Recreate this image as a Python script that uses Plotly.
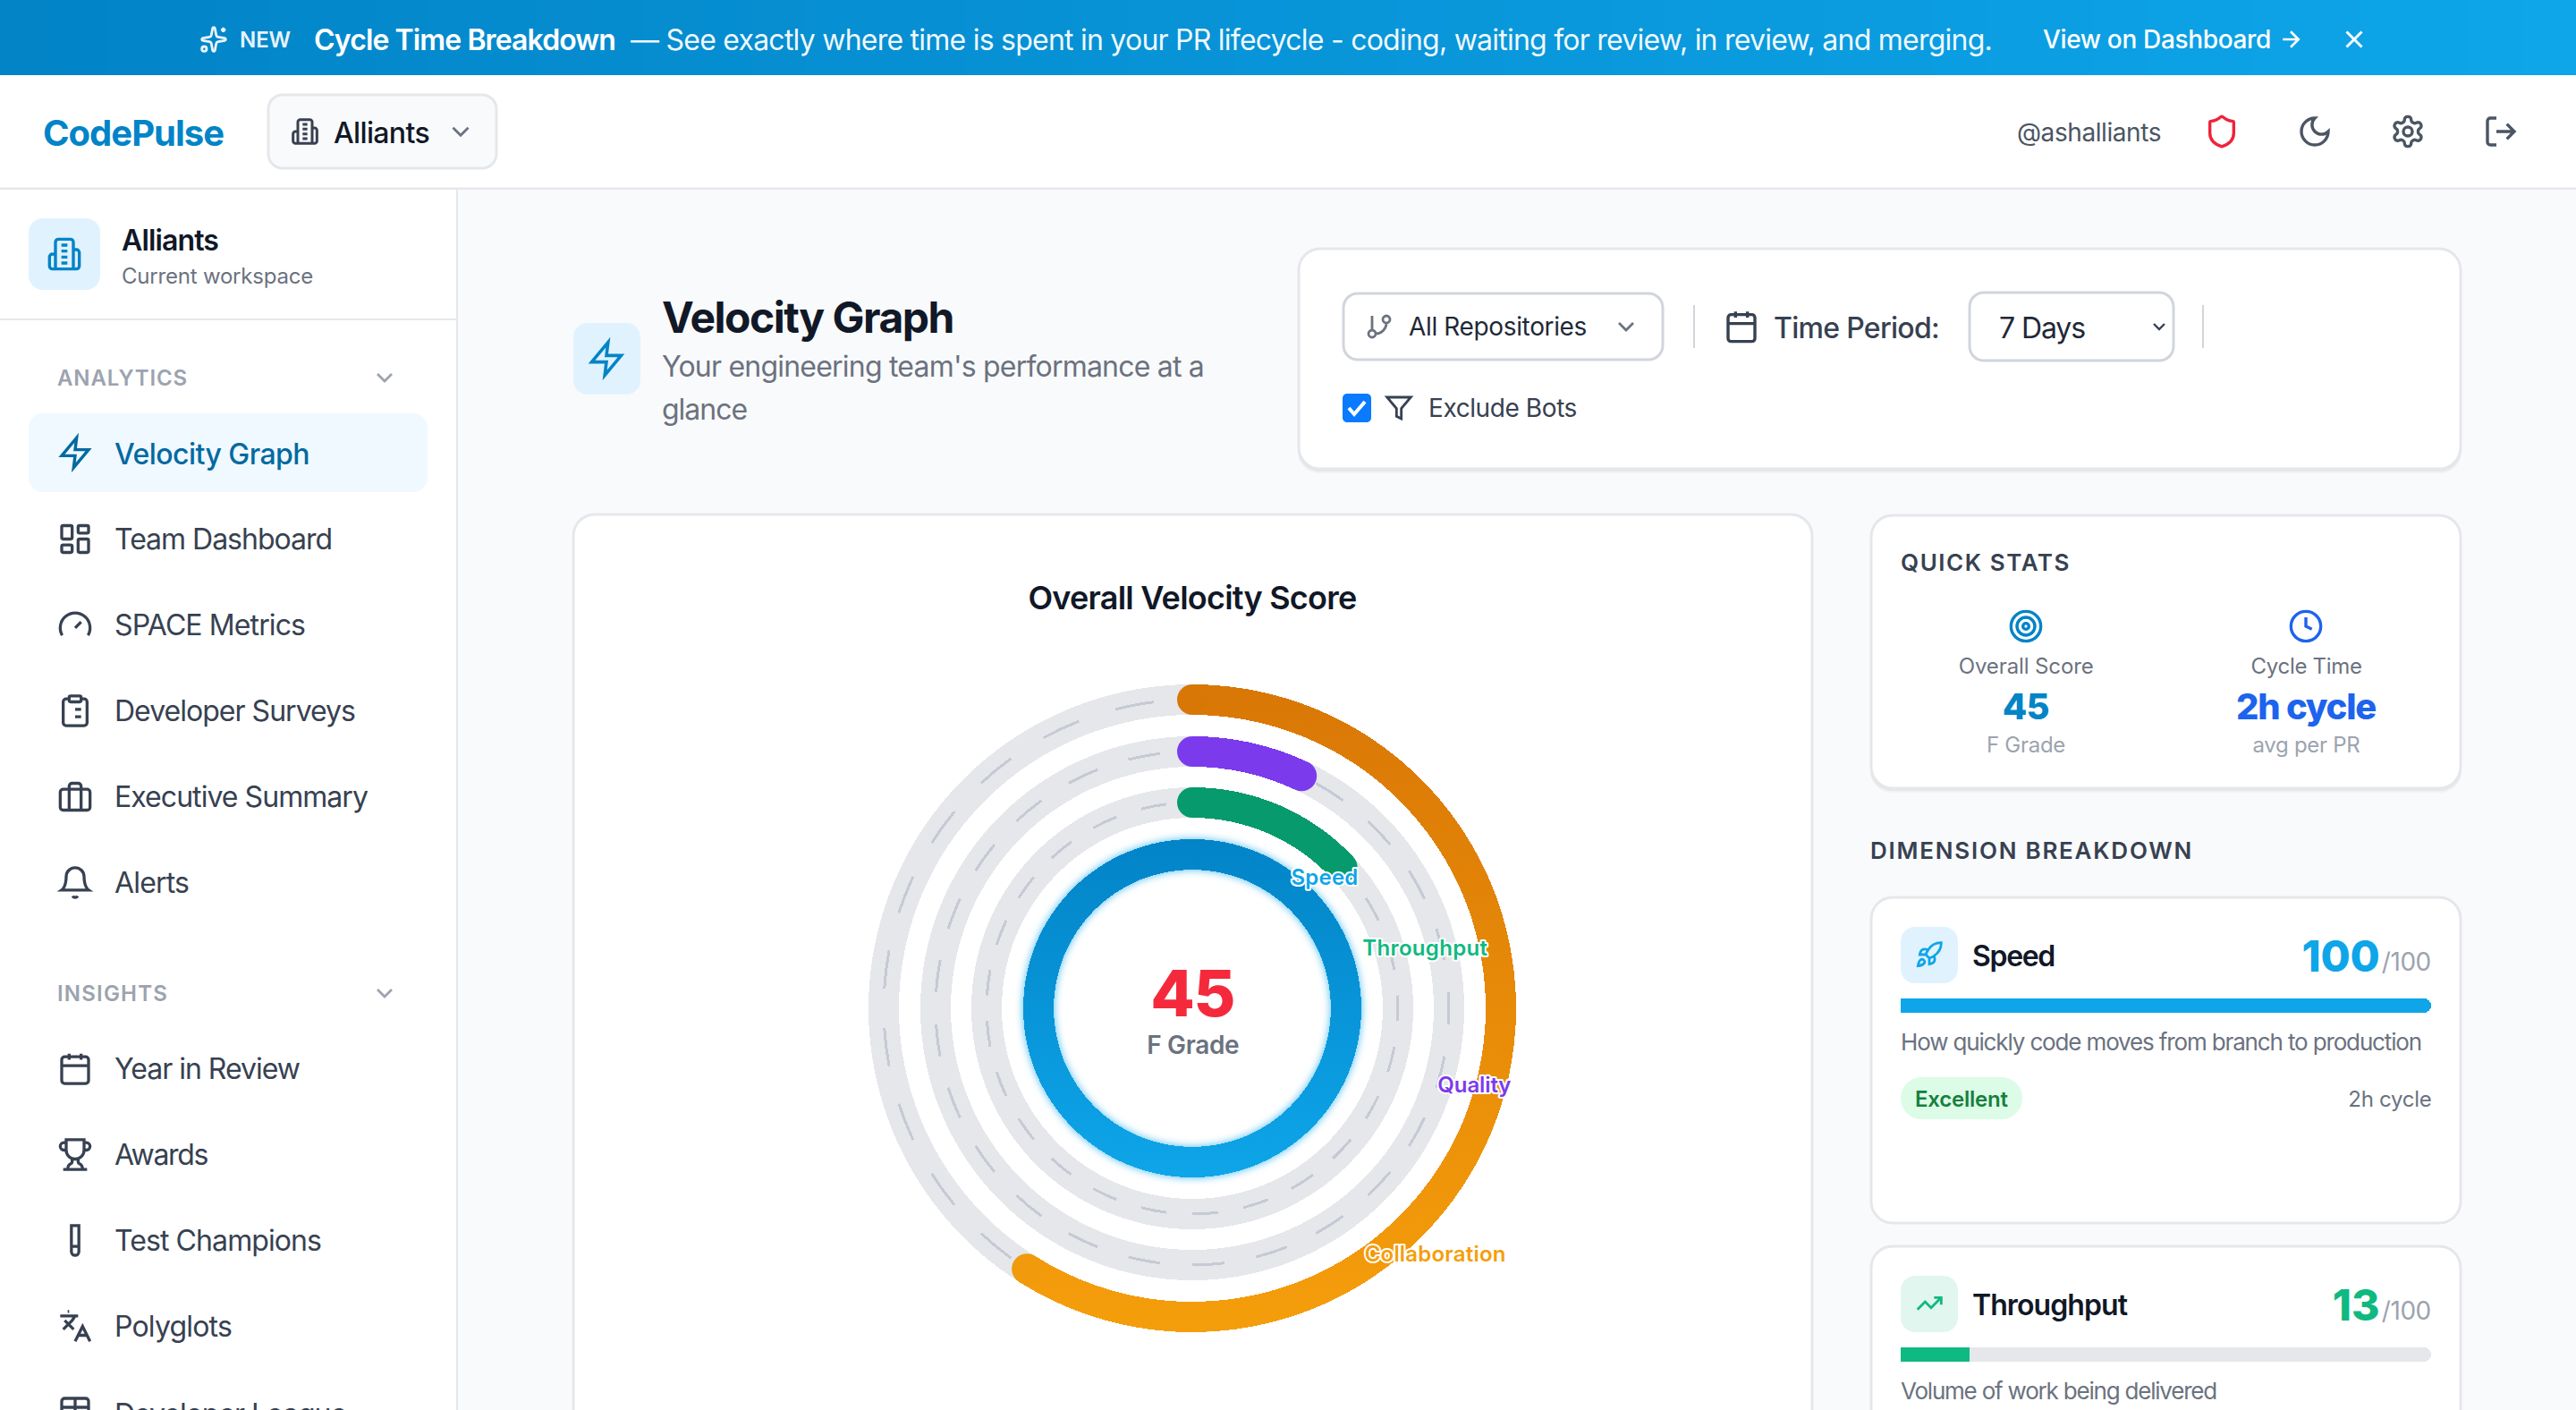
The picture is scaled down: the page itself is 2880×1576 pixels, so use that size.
import json, math, re
import numpy as np
import plotly.graph_objects as go

# ---------- data ----------
dimensions = ["Speed", "Throughput", "Quality", "Collaboration"]
scores = [100, 13, 7, 59]
dim_colors = ["#0284c7", "#069a6c", "#7c3aed", "#d97706"]
label_colors = ["#0ea5e9", "#10b981", "#7c3aed", "#f59e0b"]
overall = 45
grade = "F Grade"
analytics_items = ["Team Dashboard", "SPACE Metrics", "Developer Surveys", "Executive Summary", "Alerts"]
analytics_widths = [243, 213, 269, 283, 83]
insights_items = ["Year in Review", "Awards", "Test Champions", "Polyglots"]
insights_widths = [207, 104, 231, 131]

FONT = "Inter"
W, H = 2880, 1576
shapes, annos, fit = [], [], []

# ---------- icons ----------
NUM = re.compile(r"[MmLlHhVvCcSsQqAaZz]|[-+]?(?:\d*\.\d+|\d+\.?\d*)")

def arc_to_cubics(x1, y1, rx, ry, phi, fa, fs, x2, y2):
    if rx == 0 or ry == 0 or (x1 == x2 and y1 == y2):
        return [(x1, y1, x2, y2, x2, y2)]
    p = math.radians(phi); c, s = math.cos(p), math.sin(p)
    dx, dy = (x1 - x2) / 2, (y1 - y2) / 2
    xp, yp = c * dx + s * dy, -s * dx + c * dy
    lam = xp**2 / rx**2 + yp**2 / ry**2
    if lam > 1:
        rx *= math.sqrt(lam); ry *= math.sqrt(lam)
    n = rx**2 * ry**2 - rx**2 * yp**2 - ry**2 * xp**2
    d = rx**2 * yp**2 + ry**2 * xp**2
    k = math.sqrt(max(0, n / d)) * (1 if fa != fs else -1)
    cxp, cyp = k * rx * yp / ry, -k * ry * xp / rx
    cx, cy = c * cxp - s * cyp + (x1 + x2) / 2, s * cxp + c * cyp + (y1 + y2) / 2
    a1 = math.atan2((yp - cyp) / ry, (xp - cxp) / rx)
    a2 = math.atan2((-yp - cyp) / ry, (-xp - cxp) / rx)
    da = a2 - a1
    if fs and da < 0: da += 2 * math.pi
    if not fs and da > 0: da -= 2 * math.pi
    segs = max(1, int(math.ceil(abs(da) / (math.pi / 2) - 1e-9)))
    out = []
    t = 4 / 3 * math.tan(da / segs / 4)
    for i in range(segs):
        b1 = a1 + da * i / segs; b2 = a1 + da * (i + 1) / segs
        def pt(ux, uy):
            return (cx + c * rx * ux - s * ry * uy, cy + s * rx * ux + c * ry * uy)
        p1 = pt(math.cos(b1) - t * math.sin(b1), math.sin(b1) + t * math.cos(b1))
        p2 = pt(math.cos(b2) + t * math.sin(b2), math.sin(b2) - t * math.cos(b2))
        p3 = pt(math.cos(b2), math.sin(b2))
        out.append((*p1, *p2, *p3))
    return out

def parse(d):
    toks = NUM.findall(d); i = 0; cmd = None
    x = y = sx = sy = 0.0; last = None; out = []
    def n():
        nonlocal i
        v = float(toks[i]); i += 1; return v
    while i < len(toks):
        if re.match(r"[A-Za-z]", toks[i]):
            cmd = toks[i]; i += 1
            if cmd in "Zz":
                out.append(("Z",)); x, y = sx, sy; continue
        rel = cmd.islower(); C = cmd.upper()
        ox, oy = (x, y) if rel else (0, 0)
        if C == "M":
            x, y = n() + ox, n() + oy; sx, sy = x, y; out.append(("M", x, y)); cmd = "l" if rel else "L"; last = None
        elif C == "L":
            x, y = n() + ox, n() + oy; out.append(("L", x, y)); last = None
        elif C == "H":
            x = n() + ox; out.append(("L", x, y)); last = None
        elif C == "V":
            y = n() + oy; out.append(("L", x, y)); last = None
        elif C == "C":
            a, b, c2, d2, e, f = n() + ox, n() + oy, n() + ox, n() + oy, n() + ox, n() + oy
            out.append(("C", a, b, c2, d2, e, f)); last = (c2, d2); x, y = e, f
        elif C == "S":
            c2, d2, e, f = n() + ox, n() + oy, n() + ox, n() + oy
            a, b = (2 * x - last[0], 2 * y - last[1]) if last else (x, y)
            out.append(("C", a, b, c2, d2, e, f)); last = (c2, d2); x, y = e, f
        elif C == "A":
            rx, ry, phi, fa, fs = n(), n(), n(), n(), n()
            e, f = n() + ox, n() + oy
            for seg in arc_to_cubics(x, y, rx, ry, phi, int(fa), int(fs), e, f):
                out.append(("C", *seg))
            x, y = e, f; last = None
    return out

def circ(cx, cy, r):
    return f"M{cx-r} {cy}A{r} {r} 0 1 1 {cx+r} {cy}A{r} {r} 0 1 1 {cx-r} {cy}Z"

def rct(x, y, w, h, r):
    return (f"M{x+r} {y}H{x+w-r}A{r} {r} 0 0 1 {x+w} {y+r}V{y+h-r}A{r} {r} 0 0 1 {x+w-r} {y+h}"
            f"H{x+r}A{r} {r} 0 0 1 {x} {y+h-r}V{y+r}A{r} {r} 0 0 1 {x+r} {y}Z")

ICONS = {
    "building": ["M6 22V4a2 2 0 0 1 2-2h8a2 2 0 0 1 2 2v18Z", "M6 12H4a2 2 0 0 0-2 2v6a2 2 0 0 0 2 2h2", "M18 9h2a2 2 0 0 1 2 2v9a2 2 0 0 1-2 2h-2", "M10 6h4", "M10 10h4", "M10 14h4", "M10 18h4"],
    "chevron": ["m6 9 6 6 6-6"],
    "zap": ["M13 2 3 14h9l-1 8 10-12h-9l1-8z"],
    "dashboard": [rct(3, 3, 7, 9, 1), rct(14, 3, 7, 5, 1), rct(14, 12, 7, 9, 1), rct(3, 16, 7, 5, 1)],
    "gauge": ["m12 14 4-4", "M3.34 19a10 10 0 1 1 17.32 0"],
    "clipboard": [rct(8, 2, 8, 4, 1), "M16 4h2a2 2 0 0 1 2 2v14a2 2 0 0 1-2 2H6a2 2 0 0 1-2-2V6a2 2 0 0 1 2-2h2", "M12 11h4", "M12 16h4", "M8 11h.01", "M8 16h.01"],
    "briefcase": [rct(2, 7, 20, 14, 2), "M16 21V5a2 2 0 0 0-2-2h-4a2 2 0 0 0-2 2v16"],
    "bell": ["M6 8a6 6 0 0 1 12 0c0 7 3 9 3 9H3s3-2 3-9", "M10.3 21a1.94 1.94 0 0 0 3.4 0"],
    "calendar": [rct(3, 4, 18, 18, 2), "M16 2v4", "M8 2v4", "M3 10h18"],
    "trophy": ["M6 9H4.5a2.5 2.5 0 0 1 0-5H6", "M18 9h1.5a2.5 2.5 0 0 0 0-5H18", "M4 22h16", "M10 14.66V17c0 .55-.47.98-.97 1.21C7.85 18.75 7 20.24 7 22", "M14 14.66V17c0 .55.47.98.97 1.21C16.15 18.75 17 20.24 17 22", "M18 2H6v7a6 6 0 0 0 12 0V2Z"],
    "tube": ["M14.5 2v17.5c0 1.4-1.1 2.5-2.5 2.5c-1.4 0-2.5-1.1-2.5-2.5V2", "M8.5 2h7", "M14.5 16h-5"],
    "languages": ["m5 8 6 6", "m4 14 6-6 2-3", "M2 5h12", "M7 2h1", "m22 22-5-10-5 10", "M14 18h6"],
    "table": [rct(3, 3, 18, 18, 2), "M3 9h18", "M3 15h18", "M12 3v18"],
    "sparkles": ["M11.017 2.814a1 1 0 0 1 1.966 0l1.051 5.558a2 2 0 0 0 1.594 1.594l5.558 1.051a1 1 0 0 1 0 1.966l-5.558 1.051a2 2 0 0 0-1.594 1.594l-1.051 5.558a1 1 0 0 1-1.966 0l-1.051-5.558a2 2 0 0 0-1.594-1.594l-5.558-1.051a1 1 0 0 1 0-1.966l5.558-1.051a2 2 0 0 0 1.594-1.594z", "M20 2v4", "M22 4h-4", circ(4, 20, 2)],
    "arrow": ["M5 12h14", "m12 5 7 7-7 7"],
    "x": ["M18 6 6 18", "m6 6 12 12"],
    "shield": ["M20 13c0 5-3.5 7.5-7.66 8.95a1 1 0 0 1-.67-.01C7.5 20.5 4 18 4 13V6a1 1 0 0 1 1-1c2 0 4.5-1.2 6.24-2.72a1.17 1.17 0 0 1 1.52 0C14.51 3.81 17 5 19 5a1 1 0 0 1 1 1z"],
    "moon": ["M12 3a6 6 0 0 0 9 9 9 9 0 1 1-9-9Z"],
    "settings": ["M12.22 2h-.44a2 2 0 0 0-2 2v.18a2 2 0 0 1-1 1.73l-.43.25a2 2 0 0 1-2 0l-.15-.08a2 2 0 0 0-2.73.73l-.22.38a2 2 0 0 0 .73 2.73l.15.1a2 2 0 0 1 1 1.72v.51a2 2 0 0 1-1 1.74l-.15.09a2 2 0 0 0-.73 2.73l.22.38a2 2 0 0 0 2.73.73l.15-.08a2 2 0 0 1 2 0l.43.25a2 2 0 0 1 1 1.73V20a2 2 0 0 0 2 2h.44a2 2 0 0 0 2-2v-.18a2 2 0 0 1 1-1.73l.43-.25a2 2 0 0 1 2 0l.15.08a2 2 0 0 0 2.73-.73l.22-.39a2 2 0 0 0-.73-2.73l-.15-.08a2 2 0 0 1-1-1.74v-.5a2 2 0 0 1 1-1.74l.15-.09a2 2 0 0 0 .73-2.73l-.22-.38a2 2 0 0 0-2.73-.73l-.15.08a2 2 0 0 1-2 0l-.43-.25a2 2 0 0 1-1-1.73V4a2 2 0 0 0-2-2z", circ(12, 12, 3)],
    "logout": ["M9 21H5a2 2 0 0 1-2-2V5a2 2 0 0 1 2-2h4", "m16 17 5-5-5-5", "M21 12H9"],
    "branch": ["M6 3v12", circ(18, 6, 3), circ(6, 18, 3), "M18 9a9 9 0 0 1-9 9"],
    "filter": ["M22 3H2l8 9.46V19l4 2v-8.54L22 3z"],
    "target": [circ(12, 12, 10), circ(12, 12, 6), circ(12, 12, 2)],
    "clock": [circ(12, 12, 10), "M12 6v6l4 2"],
    "rocket": ["M4.5 16.5c-1.5 1.26-2 5-2 5s3.74-.5 5-2c.71-.84.7-2.13-.09-2.91a2.18 2.18 0 0 0-2.91-.09z", "m12 15-3-3a22 22 0 0 1 2-3.95A12.88 12.88 0 0 1 22 2c0 2.72-.78 7.5-6 11a22.35 22.35 0 0 1-4 2z", "M9 12H4s.55-3.03 2-4c1.62-1.08 5 0 5 0", "M12 15v5s3.03-.55 4-2c1.08-1.62 0-5 0-5"],
    "trending": ["M22 7 13.5 15.5 8.5 10.5 2 17", "M16 7h6v6"],
}

def icon(name, cx, cy, size, color, lw=3.3):
    k = size / 24
    parts = []
    for d in ICONS[name]:
        for seg in parse(d):
            if seg[0] == "Z":
                parts.append("Z")
            else:
                co = []
                for j, v in enumerate(seg[1:]):
                    co.append(f"{(cx + (v - 12) * k if j % 2 == 0 else cy + (v - 12) * k):.2f}")
                parts.append(seg[0] + " ".join(co))
    shapes.append(dict(type="path", xref="x", yref="y", path="".join(parts), line=dict(color=color, width=lw),
                       fillcolor="rgba(0,0,0,0)", layer="below"))

def rrect(x0, y0, x1, y1, r, fill, line=None, lw=0):
    shapes.append(dict(type="path", xref="x", yref="y", path=" ".join(
        f"{s[0]}" + " ".join(f"{v:.2f}" for v in s[1:]) for s in parse(rct(x0, y0, x1 - x0, y1 - y0, r))),
        fillcolor=fill, line=dict(color=line or "rgba(0,0,0,0)", width=lw), layer="below"))

def card(x0, y0, x1, y1, r=24, shadow=True):
    if shadow:
        rrect(x0 - 1, y0 + 1, x1 + 1, y1 + 5, r, "rgba(17,24,39,0.03)")
        rrect(x0 - 1, y0 + 1, x1 + 1, y1 + 3, r, "rgba(17,24,39,0.05)")
    rrect(x0, y0, x1, y1, r, "#ffffff", "#e5e7eb", 3)

def txt(x, y, s, size, color, weight=400, anchor="left", w=None, **kw):
    ann = dict(x=x, y=y, xref="x", yref="y", text=s, showarrow=False, xanchor=anchor, yanchor="middle",
               align=anchor, borderpad=0, borderwidth=0,
               font=dict(family=FONT, size=size, color=color, weight=weight))
    ann.update(kw)
    annos.append(ann)
    fit.append(w)

def lerp(c1, c2, t):
    a = [int(c1[i:i + 2], 16) for i in (1, 3, 5)]
    b = [int(c2[i:i + 2], 16) for i in (1, 3, 5)]
    return "#" + "".join(f"{round(a[i] + (b[i] - a[i]) * t):02x}" for i in range(3))

# ---------- page chrome ----------
strip = 60
for i in range(W // strip):
    shapes.append(dict(type="rect", xref="x", yref="y", x0=i * strip, x1=(i + 1) * strip, y0=0, y1=84,
                       fillcolor=lerp("#0284c7", "#0ea5e9", (i + 0.5) * strip / W), line=dict(width=0), layer="below"))
shapes.append(dict(type="rect", xref="x", yref="y", x0=0, x1=W, y0=84, y1=210, fillcolor="#ffffff", line=dict(width=0), layer="below"))
shapes.append(dict(type="rect", xref="x", yref="y", x0=0, x1=W, y0=209.5, y1=212, fillcolor="#e5e7eb", line=dict(width=0), layer="below"))
shapes.append(dict(type="rect", xref="x", yref="y", x0=0, x1=510, y0=212, y1=H, fillcolor="#ffffff", line=dict(width=0), layer="below"))
shapes.append(dict(type="rect", xref="x", yref="y", x0=510, x1=512, y0=212, y1=H, fillcolor="#e5e7eb", line=dict(width=0), layer="below"))

# banner
icon("sparkles", 239, 44, 32, "#e8f4fb", 2.8)
txt(268, 44, "NEW", 24, "rgba(255,255,255,0.92)", 600, w=57)
txt(351, 44, "Cycle Time Breakdown", 32, "#ffffff", 600, w=337)
txt(705, 44, "— See exactly where time is spent in your PR lifecycle - coding, waiting for review, in review, and merging.", 32, "rgba(255,255,255,0.95)", 400, w=1522)
txt(2284, 44, "View on Dashboard", 28, "#ffffff", 500, w=255)
icon("arrow", 2561, 44, 30, "#ffffff", 2.6)
icon("x", 2632, 44, 34, "#ffffff", 3)

# top nav
txt(48, 148, "CodePulse", 40, "#0284c7", 700, w=202)
rrect(300, 106, 555, 188, 16, "#f9fafb", "#e5e7eb", 3)
icon("building", 341, 147, 32, "#374151", 3)
txt(373, 148, "Alliants", 32, "#111827", 500, w=107)
icon("chevron", 515, 147, 34, "#6b7280", 2.8)
txt(2255, 148, "@ashalliants", 28, "#4b5563", 400, w=161)
icon("shield", 2484, 147, 40, "#ef233c", 3.4)
icon("moon", 2588, 147, 40, "#4b5563", 3.4)
icon("settings", 2692, 147, 40, "#4b5563", 3.4)
icon("logout", 2796, 147, 40, "#4b5563", 3.4)

# sidebar
rrect(32, 244, 112, 324, 16, "#e0f2fe")
icon("building", 72, 284, 40, "#0284c7", 3.4)
txt(136, 268, "Alliants", 32, "#111827", 600, w=108)
txt(136, 308, "Current workspace", 24, "#6b7280", 400, w=214)
shapes.append(dict(type="rect", xref="x", yref="y", x0=0, x1=510, y0=356, y1=358, fillcolor="#e5e7eb", line=dict(width=0), layer="below"))
txt(64, 422, "ANALYTICS", 24, "#9ca3af", 600, w=146)
icon("chevron", 430, 422, 32, "#9ca3af", 2.8)
rrect(32, 462, 478, 550, 16, "#f0f9ff")
icon("zap", 84, 506, 40, "#0369a1", 3.4)
txt(128, 507, "Velocity Graph", 32, "#0369a1", 500, w=218)
analytics_icons = ["dashboard", "gauge", "clipboard", "briefcase", "bell"]
for i, (lab, ic, tw) in enumerate(zip(analytics_items, analytics_icons, analytics_widths)):
    y = 602.5 + i * 96
    icon(ic, 84, y, 40, "#374151", 3.3)
    txt(128, y, lab, 32, "#374151", 400, w=tw)
txt(64, 1110, "INSIGHTS", 24, "#9ca3af", 600, w=124)
icon("chevron", 430, 1110, 32, "#9ca3af", 2.8)
insights_icons = ["calendar", "trophy", "tube", "languages"]
for i, (lab, ic, tw) in enumerate(zip(insights_items, insights_icons, insights_widths)):
    y = 1194.5 + i * 96
    icon(ic, 84, y, 40, "#374151", 3.3)
    txt(128, y, lab, 32, "#374151", 400, w=tw)
icon("table", 84, 1578, 40, "#374151", 3.3)
txt(128 / W, -4 / H, "Developer League", 32, "#374151", 400, w=259, xref="paper", yref="paper")

# page header
rrect(641, 361, 716, 441, 16, "#e0f2fe")
icon("zap", 678, 401, 44, "#0284c7", 3.6)
txt(740, 354, "Velocity Graph", 48, "#111827", 700, w=326)
txt(740, 409, "Your engineering team's performance at a", 32, "#6b7280", 400, w=606)
txt(740, 457, "glance", 32, "#6b7280", 400, w=95)

# filter card
card(1452, 278, 2751, 524)
rrect(1502, 328, 1859, 402, 16, "#ffffff", "#d1d5db", 3)
icon("branch", 1542, 365, 32, "#6b7280", 2.8)
txt(1575, 365, "All Repositories", 28, "#1f2937", 400, w=199)
icon("chevron", 1818, 365, 32, "#6b7280", 2.8)
shapes.append(dict(type="rect", xref="x", yref="y", x0=1893, x1=1895, y0=341, y1=389, fillcolor="#d1d5db", line=dict(width=0), layer="below"))
icon("calendar", 1947, 365, 40, "#374151", 3.4)
txt(1983, 366, "Time Period:", 32, "#374151", 500, w=185)
rrect(2202, 327, 2430, 403, 16, "#ffffff", "#d1d5db", 3)
txt(2235, 366, "7 Days", 32, "#1f2937", 400, w=96)
icon("chevron", 2414, 365, 24, "#374151", 2.4)
shapes.append(dict(type="rect", xref="x", yref="y", x0=2462, x1=2464, y0=341, y1=389, fillcolor="#d1d5db", line=dict(width=0), layer="below"))
rrect(1501, 440, 1533, 472, 5, "#0a7aff")
shapes.append(dict(type="path", xref="x", yref="y", path="M1508 456L1514 463L1526 449", line=dict(color="#ffffff", width=4), fillcolor="rgba(0,0,0,0)", layer="below"))
icon("filter", 1564, 456, 32, "#374151", 2.8)
txt(1597, 456, "Exclude Bots", 28, "#374151", 400, w=166)

# main card
card(641, 575, 2026, 1700)
txt(1333, 668, "Overall Velocity Score", 36, "#111827", 600, anchor="center", w=367)

# quick stats
card(2092, 576, 2751, 881)
txt(2125, 628, "QUICK STATS", 26, "#374151", 600, w=190)
icon("target", 2265, 700, 40, "#0284c7", 3.4)
txt(2265, 744, "Overall Score", 24, "#6b7280", 400, anchor="center", w=151)
txt(2265, 789, str(overall), 40, "#0284c7", 800, anchor="center", w=52)
txt(2265, 832, grade, 24, "#9ca3af", 400, anchor="center", w=88)
icon("clock", 2578, 700, 40, "#1d63ed", 3.4)
txt(2578, 744, "Cycle Time", 24, "#6b7280", 400, anchor="center", w=124)
txt(2578, 789, "2h cycle", 40, "#1d63ed", 800, anchor="center", w=156)
txt(2578, 832, "avg per PR", 24, "#9ca3af", 400, anchor="center", w=120)

# dimension breakdown
txt(2091, 950, "DIMENSION BREAKDOWN", 26, "#374151", 600, w=361)
card(2092, 1003, 2751, 1367, shadow=False)
rrect(2125, 1036, 2189, 1099, 16, "#e0f2fe")
icon("rocket", 2157, 1067, 32, "#0ea5e9", 2.8)
txt(2205, 1068, dimensions[0], 32, "#111827", 600, w=92)
txt(2661, 1068, str(scores[0]), 48, "#0ea5e9", 800, anchor="right", w=87)
txt(2718, 1075, "/100", 28, "#9ca3af", 400, anchor="right", w=55)
txt(2125, 1164, "How quickly code moves from branch to production", 26, "#6b7280", 400, w=582)
rrect(2125, 1204, 2261, 1251, 23.5, "#dcfce7")
txt(2193, 1228, "Excellent", 24, "#15803d", 600, anchor="center", w=104)
txt(2718, 1228, "2h cycle", 24, "#6b7280", 400, anchor="right", w=93)

card(2092, 1393, 2751, 1700, shadow=False)
rrect(2125, 1426, 2189, 1489, 16, "#e1f6ee")
icon("trending", 2157, 1457, 32, "#10b981", 2.8)
txt(2205, 1458, dimensions[1], 32, "#111827", 600, w=173)
txt(2661, 1458, str(scores[1]), 48, "#10b981", 800, anchor="right", w=53)
txt(2718, 1465, "/100", 28, "#9ca3af", 400, anchor="right", w=55)
txt(2125, 1554, "Volume of work being delivered", 26, "#6b7280", 400, w=353)

# ring centre and ring labels
txt(1333, 1109, str(overall), 72, "#f42a3c", 800, anchor="center", w=94)
txt(1333, 1168, grade, 28, "#6b7280", 600, anchor="center", w=103)
label_pos = [(1481, 980), (1593, 1059), (1648, 1212), (1604, 1401)]
label_widths = [75, 140, 82, 158]
for lab, col, (lx, ly), tw in zip(dimensions, label_colors, label_pos, label_widths):
    txt(lx, ly, lab, 24, col, 600, anchor="center", w=tw)
halo_from = len(annos) - len(dimensions)

# ---------- traces ----------
fig = go.Figure()
fig.add_trace(go.Scatter(x=[0], y=[0], mode="markers", marker=dict(opacity=0), hoverinfo="skip", showlegend=False))

# radial scale is in page pixels: centre (1333,1127), 400 px radius
ring_r = dict(zip(dimensions, [172, 230, 287, 345]))
ring_w = 34
dash_count = 25
dash_step = 360 / dash_count
dash_theta = 90 + np.arange(dash_count) * dash_step
for d in dimensions[::-1]:
    fig.add_trace(go.Barpolar(r=[ring_w], base=[ring_r[d] - ring_w / 2], theta=[180], width=[360], subplot="polar",
                              marker=dict(color="#e5e7eb", line=dict(width=0)), hoverinfo="skip", showlegend=False))
    fig.add_trace(go.Barpolar(r=np.full(dash_count, 3.0), base=np.full(dash_count, ring_r[d] - 1.5), theta=dash_theta,
                              width=np.full(dash_count, dash_step / 2), subplot="polar",
                              marker=dict(color="#c5cad4", line=dict(width=0)), hoverinfo="skip", showlegend=False))
end_caps = {"Speed": "#0ea5e9", "Throughput": "#069a6c", "Quality": "#7c3aed", "Collaboration": "#f19a0b"}
for d, v, c in zip(dimensions, scores, dim_colors):
    ang = v * 3.6
    fig.add_trace(go.Barpolar(r=[ring_w], base=[ring_r[d] - ring_w / 2], theta=[ang / 2], width=[ang], subplot="polar",
                              marker=dict(color=c, line=dict(width=0)), name=d, hoverinfo="skip", showlegend=False))
    if v < 100:
        fig.add_trace(go.Scatterpolar(r=[ring_r[d], ring_r[d]], theta=[0, ang], mode="markers", subplot="polar",
                                      marker=dict(size=ring_w, color=[c, end_caps[d]], line=dict(width=0)),
                                      hoverinfo="skip", showlegend=False))

# progress bars
for ax, d, v, c in [("2", dimensions[0], scores[0], "#0ea5e9"), ("3", dimensions[1], scores[1], "#10b981")]:
    fig.add_trace(go.Bar(x=[100], y=[d], orientation="h", xaxis="x" + ax, yaxis="y" + ax,
                         marker=dict(color="#e5e7eb", line=dict(width=0)), hoverinfo="skip", showlegend=False))
    fig.add_trace(go.Bar(x=[v], y=[d], orientation="h", xaxis="x" + ax, yaxis="y" + ax,
                         marker=dict(color=c, line=dict(width=0)), hoverinfo="skip", showlegend=False))

def hidden(**kw):
    return dict(visible=False, fixedrange=True, showgrid=False, zeroline=False, **kw)

fig.update_layout(
    width=W, height=H, margin=dict(l=0, r=0, t=0, b=0), autosize=False,
    paper_bgcolor="#f9fafb", plot_bgcolor="rgba(0,0,0,0)", showlegend=False,
    barmode="overlay", bargap=0, barcornerradius=8,
    font=dict(family=FONT),
    xaxis=hidden(range=[0, W], domain=[0, 1]),
    yaxis=hidden(range=[H, 0], domain=[0, 1]),
    xaxis2=hidden(range=[0, 100], domain=[2125 / W, 2718 / W], anchor="y2"),
    yaxis2=hidden(domain=[1 - 1132 / H, 1 - 1116 / H], anchor="x2"),
    xaxis3=hidden(range=[0, 100], domain=[2125 / W, 2718 / W], anchor="y3"),
    yaxis3=hidden(domain=[1 - 1522 / H, 1 - 1506 / H], anchor="x3"),
    polar=dict(domain=dict(x=[933 / W, 1733 / W], y=[1 - 1527 / H, 1 - 727 / H]),
               bgcolor="rgba(0,0,0,0)", barmode="overlay",
               radialaxis=dict(visible=False, range=[0, 400]),
               angularaxis=dict(visible=False, direction="clockwise", rotation=90)),
    shapes=shapes, annotations=annos,
)

post = """
document.documentElement.style.margin='0';document.body.style.margin='0';document.body.style.overflow='hidden';document.body.style.background='#f9fafb';
var gd=document.querySelector('.plotly-graph-div');
var svg=gd.querySelector('svg.main-svg');
var NS='http://www.w3.org/2000/svg';
var defs=document.createElementNS(NS,'defs');
function grad(id,a,b){var g=document.createElementNS(NS,'linearGradient');g.setAttribute('id',id);g.setAttribute('x1','0');g.setAttribute('y1','0');g.setAttribute('x2','0');g.setAttribute('y2','1');
[[0,a],[1,b]].forEach(function(s){var e=document.createElementNS(NS,'stop');e.setAttribute('offset',s[0]);e.setAttribute('stop-color',s[1]);g.appendChild(e);});defs.appendChild(g);}
grad('gradSpeed','#0284c7','#0ea5e9');grad('gradCollab','#d97706','#f59e0b');svg.appendChild(defs);
gd.querySelectorAll('.polarlayer .barlayer path, .polarlayer .trace.bars path').forEach(function(p){
 var f=p.style.fill;
 if(f==='rgb(2, 132, 199)'){p.style.fill='url(#gradSpeed)';p.style.filter='drop-shadow(0 0 5px rgba(14,165,233,0.75))';}
 if(f==='rgb(217, 119, 6)'){p.style.fill='url(#gradCollab)';}
});
var FIT=__FIT__,HALO=__HALO__;
gd.querySelectorAll('.annotation').forEach(function(a){
 var i=+a.getAttribute('data-index');var w=FIT[i];if(!w)return;
 var t=a.querySelector('.annotation-text');if(!t)return;
 var m=t.getComputedTextLength();var n=t.textContent.length;
 t.style.letterSpacing=((w-m)/n).toFixed(3)+'px';
 if(i>=HALO){t.style.stroke='#ffffff';t.style.strokeWidth='4px';t.style.paintOrder='stroke';t.style.strokeLinejoin='round';}
});
""".replace("__FIT__", json.dumps(fit)).replace("__HALO__", str(halo_from))
fig.write_html("out.html", post_script=post, config=dict(displayModeBar=False, staticPlot=True))
